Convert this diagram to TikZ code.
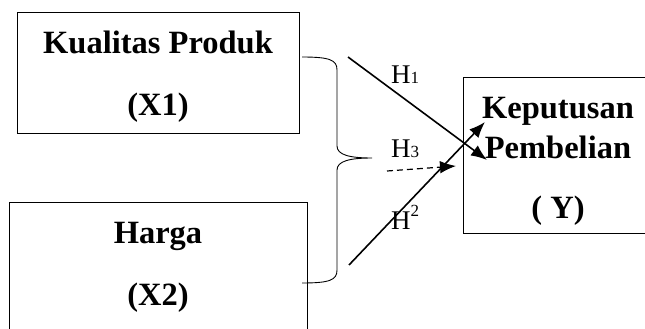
\documentclass[tikz,border=0pt]{standalone}
\usepackage{fontspec}
\setmainfont{Liberation Serif}
\usetikzlibrary{arrows.meta}
\usetikzlibrary{positioning}

\begin{document}
\begin{tikzpicture}[x=1pt, y=-1pt,
		box/.style={draw, rectangle, line width={0.9pt}, inner sep=0pt, anchor=north west},
		txt/.style={anchor=base, inner sep=0pt, font=\fontsize{32.5}{32}\selectfont\bfseries},
		hyp/.style={anchor=base west, inner sep=0pt, font=\fontsize{27}{27}\selectfont},
		arr/.style={line width={1.6pt}, -{Latex[length=16pt, width=12.5pt]}}]
				\useasboundingbox (0,0) rectangle (645,329);
				\clip (0,0) rectangle (645,329);
				\node[box, minimum width=282pt, minimum height=121pt] (x1) at (17,12) {};
				\node[box, minimum width=298pt, minimum height=140pt] (x2) at (9,202) {};
				\node[box, minimum width=200pt, minimum height=156pt] (y) at (463,77) {};
				\node[txt] (x1a) at (158,53) {Kualitas Produk};
				\node[txt] (x1b) at (158,115) {(X1)};
				\node[txt] (x2a) at (158,243) {Harga};
				\node[txt] (x2b) at (158,305) {(X2)};
				\node[txt] (ya) at (558,118) {Keputusan};
				\node[txt] (yb) at (558,158) {Pembelian};
				\node[txt] (yc) at (558,218) {( Y)};
				\node[hyp] (h1) at (391,83) {H{\fontsize{17}{17}\selectfont 1}};
				\node[hyp] (h3) at (391,157) {H{\fontsize{17}{17}\selectfont 3}};
				\node[hyp] (h2) at (391,229) {H\raisebox{13pt}{\fontsize{17}{17}\selectfont 2}};
				\draw[line width={0.9pt}] (302,57) .. controls (330,57) and (337,60) .. (337,70) -- (337,146)
					.. controls (337,155) and (350,158) .. (372,158)
					.. controls (350,158) and (337,161) .. (337,170) -- (337,270)
					.. controls (337,280) and (330,283) .. (302,283);
				\coordinate (s1) at (348,57);
				\coordinate (e1) at (487,160);
				\coordinate (s2) at (349,265);
				\coordinate (e2) at (485,122);
				\coordinate (s3) at (387,171);
				\coordinate (e3) at (456,166);
				\draw[arr] (s1) -- (e1);
				\draw[arr] (s2) -- (e2);
				\draw[arr, line width={1.2pt}, dash pattern=on 6pt off 4pt] (s3) -- (e3);
			\end{tikzpicture}
\end{document}
